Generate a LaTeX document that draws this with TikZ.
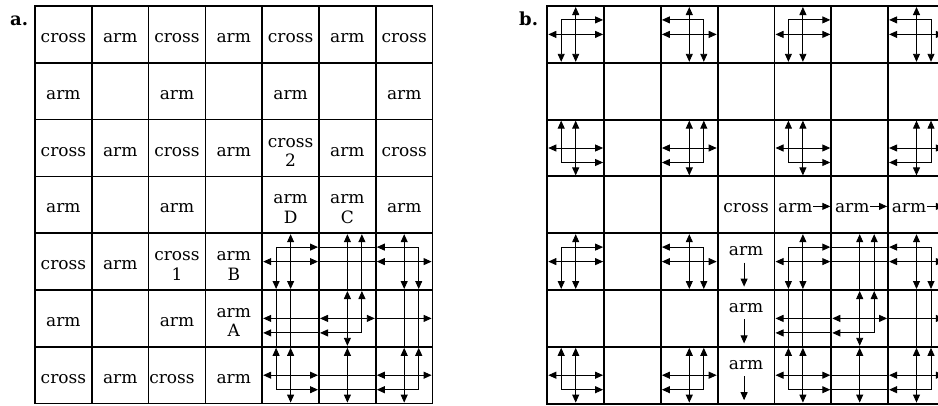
\documentclass[tikz,border=0pt]{standalone}
\usepackage{fontspec}
\setmainfont{DejaVu Serif}
\usetikzlibrary{arrows.meta}
\def\Sz{56.8}
\def\hh{27.4}
\def\off{14.5}
\def\gridX{35}
\def\gridY{6}
% cross-cell glyph: col, row, horizontal dir of the L, vertical dir of the L
\newcommand\xglyph[4]{%
  \pgfmathsetmacro\gx{\gridX+(#1-0.5)*\Sz}%
  \pgfmathsetmacro\gy{\gridY+(#2-0.5)*\Sz}%
  \pgfmathsetmacro\lx{\gx-(#3)*\off}%
  \pgfmathsetmacro\ly{\gy-(#4)*\off}%
  \pgfmathsetmacro\ex{\gx+(#3)*\hh}%
  \pgfmathsetmacro\ey{\gy+(#4)*\hh}%
  \draw[ar,<->] (\gx,\gy-\hh) -- (\gx,\gy+\hh);
  \draw[ar,<->] (\gx-\hh,\gy) -- (\gx+\hh,\gy);
  \draw[ar,<->] (\lx,\ey) -- (\lx,\ly) -- (\ex,\ly);
}
% connections in the 3x3 block (cols 5-7, rows 5-7)
\newcommand\blockarr{%
  \pgfmathsetmacro\xa{\gridX+4.5*\Sz}%
  \pgfmathsetmacro\xb{\gridX+5.5*\Sz}%
  \pgfmathsetmacro\xc{\gridX+6.5*\Sz}%
  \pgfmathsetmacro\ya{\gridY+4.5*\Sz}%
  \pgfmathsetmacro\yb{\gridY+5.5*\Sz}%
  \pgfmathsetmacro\yc{\gridY+6.5*\Sz}%
  \pgfmathsetmacro\Ea{\gridX+4*\Sz}%
  \pgfmathsetmacro\Eb{\gridX+5*\Sz}%
  \pgfmathsetmacro\Ec{\gridX+6*\Sz}%
  \pgfmathsetmacro\Ed{\gridX+7*\Sz}%
  \pgfmathsetmacro\Fa{\gridY+4*\Sz}%
  \pgfmathsetmacro\Fb{\gridY+5*\Sz}%
  \pgfmathsetmacro\Fc{\gridY+6*\Sz}%
  \pgfmathsetmacro\Fd{\gridY+7*\Sz}%
  % row 5, col 6
  \draw[ar,<-] (\xb,\Fa+1) -- (\xb,\Fb);
  \draw[ar,<-] (\xb+\off,\Fa+1) -- (\xb+\off,\Fb);
  \draw[ar] (\Eb,\ya-\off) -- (\Ec,\ya-\off);
  \draw[ar] (\Eb,\ya) -- (\Ec,\ya);
  % row 6, col 5
  \draw[ar] (\xa-\off,\Fb) -- (\xa-\off,\Fc);
  \draw[ar] (\xa,\Fb) -- (\xa,\Fc);
  \draw[ar,<-] (\Ea+1,\yb) -- (\Eb,\yb);
  \draw[ar,<-] (\Ea+1,\yb+\off) -- (\Eb,\yb+\off);
  % row 6, col 6
  \draw[ar,<->] (\xb,\Fb+1) -- (\xb,\Fc-1);
  \draw[ar,<->] (\Eb+1,\yb) -- (\Ec-1,\yb);
  \draw[ar,<->] (\xb+\off,\Fb+1) -- (\xb+\off,\yb+\off) -- (\Eb+1,\yb+\off);
  % row 6, col 7
  \draw[ar] (\xc,\Fb) -- (\xc,\Fc);
  \draw[ar] (\xc+\off,\Fb) -- (\xc+\off,\Fc);
  \draw[ar,->] (\Ec,\yb) -- (\Ed-1,\yb);
  % row 7, col 6
  \draw[ar,<->] (\xb,\Fc+1) -- (\xb,\Fd-1);
  \draw[ar] (\Eb,\yc) -- (\Ec,\yc);
  \draw[ar] (\Eb,\yc+\off) -- (\Ec,\yc+\off);
}
\newcommand\gridlines[1]{%
  \draw[#1] (\gridX,\gridY) rectangle ({\gridX+7*\Sz},{\gridY+7*\Sz});
  \foreach \kk in {1,...,6}{%
    \draw[#1] ({\gridX+\kk*\Sz},\gridY) -- ({\gridX+\kk*\Sz},{\gridY+7*\Sz});
    \draw[#1] (\gridX,{\gridY+\kk*\Sz}) -- ({\gridX+7*\Sz},{\gridY+\kk*\Sz});
  }%
}
\newcommand\onel[5][0]{%
  \node[lbl] (#2-#3-#4) at ({\gridX+(#3-0.5)*\Sz+#1},{\gridY+(#4-0.5)*\Sz+8}) {#5};}
\newcommand\twol[5]{%
  \node[lbl] (#1-#2-#3) at ({\gridX+(#2-0.5)*\Sz},{\gridY+(#3-0.5)*\Sz-1}) {#4};
  \node[lbl] (#1-#2-#3-b) at ({\gridX+(#2-0.5)*\Sz},{\gridY+(#3-0.5)*\Sz+18.5}) {#5};}
\newcommand\armright[2]{% col,row (panel b)
  \node[lbl,anchor=base west] (b-#1-#2) at ({\gridX+(#1-1)*\Sz+3.5},{\gridY+(#2-0.5)*\Sz+7.5}) {arm};
  \coordinate (b-#1-#2-e) at ({\gridX+#1*\Sz-1},{\gridY+(#2-0.5)*\Sz});
  \draw[ar,->] ([xshift=0.5pt,yshift=1.5pt]b-#1-#2.east) -- ([yshift=1.5pt]b-#1-#2.east -| b-#1-#2-e);}
\newcommand\armdown[2]{% col,row (panel b)
  \node[lbl] (b-#1-#2) at ({\gridX+(#1-0.5)*\Sz},{\gridY+(#2-0.5)*\Sz-6}) {arm};
  \coordinate (b-#1-#2-s) at ({\gridX+(#1-0.5)*\Sz-2},{\gridY+(#2-0.5)*\Sz+1});
  \coordinate (b-#1-#2-e) at ({\gridX+(#1-0.5)*\Sz-2},{\gridY+(#2-0.5)*\Sz+25});
  \draw[ar,->] (b-#1-#2-s) -- (b-#1-#2-e);}
\begin{document}
\begin{tikzpicture}[x=1pt,y=-1pt,
  gridA/.style={line width=1.5pt},
  gridB/.style={line width=1.9pt},
  ar/.style={line width=0.9pt},
  >={Triangle[length=8pt,width=7pt]},
  lbl/.style={font=\fontsize{17}{19}\selectfont, inner sep=0pt, anchor=base},
  panel/.style={font=\bfseries\fontsize{18}{20}\selectfont, inner sep=0pt, anchor=base west}]
\useasboundingbox (0,0) rectangle (938,405);
\clip (0,0) rectangle (938,405);
\fill[white] (0,0) rectangle (938,405);
\node[panel] (la) at (10,25) {a.};
\node[panel] (lb) at (519,25) {b.};
% ---------------- panel a ----------------
\def\gridX{35}
\gridlines{gridA}
\onel{a}{1}{1}{cross}\onel{a}{2}{1}{arm}\onel{a}{3}{1}{cross}\onel{a}{4}{1}{arm}
\onel{a}{5}{1}{cross}\onel{a}{6}{1}{arm}\onel{a}{7}{1}{cross}
\onel{a}{1}{2}{arm}\onel{a}{3}{2}{arm}\onel{a}{5}{2}{arm}\onel{a}{7}{2}{arm}
\onel{a}{1}{3}{cross}\onel{a}{2}{3}{arm}\onel{a}{3}{3}{cross}\onel{a}{4}{3}{arm}
\twol{a}{5}{3}{cross}{2}\onel{a}{6}{3}{arm}\onel{a}{7}{3}{cross}
\onel{a}{1}{4}{arm}\onel{a}{3}{4}{arm}\twol{a}{5}{4}{arm}{D}\twol{a}{6}{4}{arm}{C}
\onel{a}{7}{4}{arm}
\onel{a}{1}{5}{cross}\onel{a}{2}{5}{arm}\twol{a}{3}{5}{cross}{1}\twol{a}{4}{5}{arm}{B}
\onel{a}{1}{6}{arm}\onel{a}{3}{6}{arm}\twol{a}{4}{6}{arm}{A}
\onel{a}{1}{7}{cross}\onel{a}{2}{7}{arm}\onel[-5]{a}{3}{7}{cross}\onel{a}{4}{7}{arm}
\xglyph{5}{5}{1}{1}\xglyph{7}{5}{-1}{1}
\xglyph{5}{7}{1}{-1}\xglyph{7}{7}{-1}{-1}
\blockarr
% ---------------- panel b ----------------
\def\gridX{547.3}
\gridlines{gridB}
\foreach \cc/\hd in {1/1,3/-1}{%
  \foreach \rr/\vd in {1/1,3/-1,5/1,7/-1}{\xglyph{\cc}{\rr}{\hd}{\vd}}}
\xglyph{5}{1}{1}{1}\xglyph{7}{1}{-1}{1}
\xglyph{5}{3}{1}{-1}\xglyph{7}{3}{-1}{-1}
\xglyph{5}{5}{1}{1}\xglyph{7}{5}{-1}{1}
\xglyph{5}{7}{1}{-1}\xglyph{7}{7}{-1}{-1}
\blockarr
\onel{b}{4}{4}{cross}
\armright{5}{4}\armright{6}{4}\armright{7}{4}
\armdown{4}{5}\armdown{4}{6}\armdown{4}{7}
\end{tikzpicture}
\end{document}
